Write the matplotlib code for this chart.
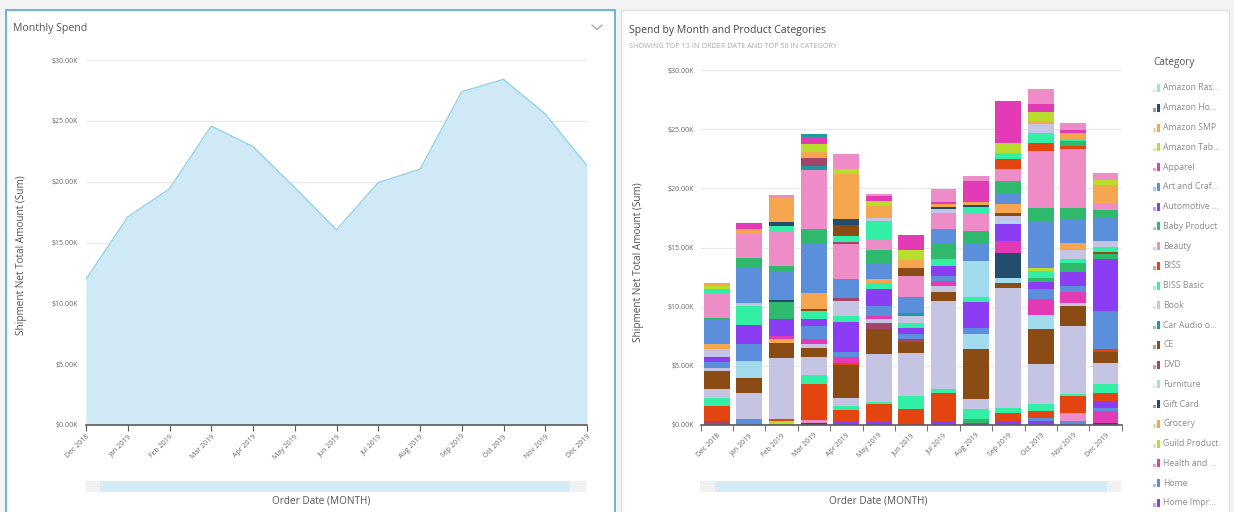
import numpy as np
import matplotlib.pyplot as plt
from matplotlib.patches import Rectangle

plt.rcParams['font.family'] = ['Open Sans', 'DejaVu Sans']

W, H = 1234, 512

months = ['Dec 2018', 'Jan 2019', 'Feb 2019', 'Mar 2019', 'Apr 2019', 'May 2019', 'Jun 2019',
          'Jul 2019', 'Aug 2019', 'Sep 2019', 'Oct 2019', 'Nov 2019', 'Dec 2019']

categories = ['Amazon Ras...', 'Amazon Ho...', 'Amazon SMP', 'Amazon Tab...', 'Apparel',
              'Art and Craf...', 'Automotive ...', 'Baby Product', 'Beauty', 'BISS', 'BISS Basic',
              'Book', 'Car Audio o...', 'CE', 'DVD', 'Furniture', 'Gift Card', 'Grocery',
              'Guild Product', 'Health and ...', 'Home', 'Home Impr...']

# stacked pieces per month, bottom to top: (colour key, $K)
seg_dec18 = [('maroon', 0.34), ('red', 1.27), ('mint', 0.70), ('lavender', 0.70), ('brown', 1.55),
             ('lavender', 0.28), ('blue', 0.48), ('purple', 0.42), ('lavender', 0.65), ('orange', 0.42),
             ('blue', 2.03), ('green', 0.23), ('pink', 2.11), ('mint', 0.34), ('lime', 0.23), ('orange', 0.23)]
seg_jan19 = [('blue', 0.48), ('lavender', 2.25), ('brown', 1.27), ('cyan', 1.41), ('blue', 1.41),
             ('purple', 1.61), ('mint', 1.63), ('lavender', 0.23), ('blue', 3.10), ('green', 0.76),
             ('pink', 1.97), ('orange', 0.42), ('magenta', 0.56)]
seg_feb19 = [('lime', 0.34), ('red', 0.20), ('lavender', 5.10), ('brown', 1.32), ('orange', 0.28),
             ('magenta', 0.28), ('purple', 1.46), ('green', 1.41), ('navy', 0.20), ('blue', 2.45),
             ('green', 0.37), ('pink', 2.96), ('mint', 0.42), ('navy', 0.34), ('orange', 2.06), ('pink', 0.23)]
seg_mar19 = [('navy', 0.20), ('pink', 0.20), ('red', 3.04), ('mint', 0.76), ('lavender', 1.55),
             ('brown', 0.79), ('lavender', 0.28), ('magenta', 0.48), ('blue', 1.07), ('purple', 0.62),
             ('mint', 0.62), ('brown', 0.23), ('orange', 1.35), ('blue', 4.08), ('green', 1.27),
             ('pink', 5.01), ('teal', 0.34), ('maroon', 0.70), ('orange', 0.48), ('lime', 0.65),
             ('magenta', 0.65), ('teal', 0.20)]
seg_apr19 = [('purple', 0.25), ('red', 0.99), ('mint', 0.37), ('lavender', 0.70), ('brown', 2.73),
             ('red', 0.17), ('magenta', 0.54), ('blue', 0.42), ('purple', 2.54), ('mint', 0.51),
             ('lavender', 1.27), ('maroon', 0.28), ('blue', 1.55), ('pink', 2.96), ('maroon', 0.20),
             ('mint', 0.51), ('brown', 0.90), ('navy', 0.56), ('orange', 3.75), ('lime', 0.42), ('pink', 1.27)]
seg_may19 = [('purple', 0.25), ('red', 1.49), ('mint', 0.20), ('lavender', 4.03), ('brown', 2.11),
             ('maroon', 0.56), ('lavender', 0.34), ('magenta', 0.23), ('blue', 0.85), ('purple', 1.41),
             ('mint', 0.51), ('orange', 0.34), ('blue', 1.35), ('green', 1.13), ('pink', 0.90),
             ('mint', 1.55), ('lavender', 0.28), ('orange', 0.99), ('lime', 0.42), ('magenta', 0.37),
             ('pink', 0.20)]
seg_jun19 = [('red', 1.38), ('mint', 1.07), ('lavender', 3.66), ('brown', 0.90), ('maroon', 0.23),
             ('blue', 0.42), ('purple', 0.56), ('mint', 0.42), ('lavender', 0.56), ('teal', 0.28),
             ('blue', 1.35), ('pink', 1.80), ('brown', 0.65), ('orange', 0.70), ('lime', 0.85),
             ('magenta', 1.21)]
seg_jul19 = [('purple', 0.34), ('red', 2.39), ('mint', 0.34), ('lavender', 7.41), ('brown', 0.76),
             ('lavender', 0.51), ('magenta', 0.42), ('blue', 0.42), ('purple', 0.85), ('mint', 0.62),
             ('green', 1.27), ('blue', 1.21), ('pink', 1.41), ('lavender', 0.28), ('navy', 0.23),
             ('orange', 0.20), ('magenta', 0.20), ('pink', 1.07)]
seg_aug19 = [('purple', 0.20), ('green', 0.28), ('mint', 0.85), ('lavender', 0.85), ('brown', 4.23),
             ('cyan', 1.27), ('blue', 0.48), ('purple', 2.20), ('mint', 0.42), ('cyan', 3.10),
             ('blue', 1.41), ('green', 1.13), ('pink', 1.41), ('mint', 0.56), ('navy', 0.20),
             ('orange', 0.23), ('magenta', 1.83), ('pink', 0.37)]
seg_sep19 = [('purple', 0.34), ('red', 0.70), ('mint', 0.42), ('lavender', 10.14), ('brown', 0.37),
             ('cyan', 0.48), ('navy', 2.11), ('magenta', 0.99), ('purple', 1.41), ('cyan', 0.28),
             ('lavender', 0.42), ('brown', 0.23), ('orange', 0.76), ('blue', 0.99), ('green', 0.99),
             ('pink', 1.04), ('red', 0.79), ('mint', 0.56), ('lime', 0.85), ('magenta', 3.52)]
seg_oct19 = [('purple', 0.30), ('blue', 0.32), ('red', 0.56), ('mint', 0.56), ('lavender', 3.38),
             ('brown', 2.96), ('cyan', 1.18), ('magenta', 1.35), ('blue', 0.85), ('purple', 0.62),
             ('green', 0.37), ('mint', 0.56), ('lime', 0.28), ('blue', 3.94), ('green', 1.13),
             ('pink', 4.79), ('red', 0.70), ('mint', 0.79), ('lavender', 0.76), ('orange', 0.28),
             ('lime', 0.76), ('magenta', 0.65), ('pink', 1.32)]
seg_nov19 = [('blue', 0.34), ('pink', 0.65), ('red', 1.46), ('mint', 0.20), ('lavender', 5.72),
             ('brown', 1.69), ('lavender', 0.23), ('magenta', 0.96), ('blue', 0.51), ('purple', 1.13),
             ('green', 0.79), ('mint', 0.34), ('lavender', 0.79), ('orange', 0.56), ('blue', 2.03),
             ('green', 0.90), ('pink', 5.01), ('red', 0.28), ('green', 0.42), ('mint', 0.20),
             ('orange', 0.45), ('magenta', 0.28), ('pink', 0.62)]
seg_dec19 = [('navy', 0.20), ('magenta', 0.99), ('blue', 0.28), ('purple', 0.56), ('red', 0.70),
             ('mint', 0.70), ('lavender', 1.77), ('brown', 0.96), ('red', 0.23), ('blue', 3.24),
             ('purple', 4.42), ('green', 0.37), ('brown', 0.20), ('mint', 0.42), ('lavender', 0.51),
             ('blue', 2.06), ('green', 0.56), ('pink', 0.56), ('orange', 1.52), ('lime', 0.45), ('pink', 0.62)]

stacks = [seg_dec18, seg_jan19, seg_feb19, seg_mar19, seg_apr19, seg_may19, seg_jun19,
          seg_jul19, seg_aug19, seg_sep19, seg_oct19, seg_nov19, seg_dec19]

palette = {'cyan': '#a2daee', 'navy': '#244c6d', 'orange': '#f5a64e', 'lime': '#b9dd2e',
           'magenta': '#e33bb6', 'blue': '#5b8fdc', 'purple': '#8b3df4', 'green': '#2eb96c',
           'pink': '#ee8cc8', 'red': '#e4440f', 'mint': '#33eea5', 'lavender': '#c5c5e3',
           'teal': '#1d9a9e', 'brown': '#8a4b14', 'maroon': '#a3456b'}
cycle = ['cyan', 'navy', 'orange', 'lime', 'magenta', 'blue', 'purple', 'green', 'pink',
         'red', 'mint', 'lavender', 'teal', 'brown', 'maroon']

totals = [sum(v for _, v in s) for s in stacks]

fig = plt.figure(figsize=(W / 100, H / 100), dpi=100, facecolor='#f3f3f3')

# background layer in pixel coordinates: panels, titles, legend, scroll bars
bg = fig.add_axes([0, 0, 1, 1])
bg.set_xlim(0, W)
bg.set_ylim(H, 0)
bg.axis('off')
bg.add_patch(Rectangle((6, 10), 609, 520, facecolor='white', edgecolor='#5fb0d8', lw=1.3))
bg.add_patch(Rectangle((621, 10), 608, 520, facecolor='white', edgecolor='#e2e2e2', lw=1))
bg.text(13, 29, 'Monthly Spend', fontsize=7.6, color='#555555', va='center')
bg.plot([592, 597, 602], [25, 29.5, 25], color='#999999', lw=0.8)
bg.text(629, 30, 'Spend by Month and Product Categories', fontsize=7.5, color='#444444', va='center')
bg.text(629, 46, 'SHOWING TOP 13 IN ORDER DATE AND TOP 50 IN CATEGORY', fontsize=5.2,
        color='#aaaaaa', va='center')

for x0, x1, s0, s1 in [(86, 586, 100, 570), (700, 1121, 715, 1107)]:
    bg.add_patch(Rectangle((x0, 481), x1 - x0, 11, facecolor='#f1f1f1', lw=0))
    bg.add_patch(Rectangle((s0, 481), s1 - s0, 11, facecolor='#d4ecf7', lw=0))
bg.text(321, 501, 'Order Date (MONTH)', fontsize=7.2, color='#555555', ha='center', va='center')
bg.text(878, 501, 'Order Date (MONTH)', fontsize=7.2, color='#555555', ha='center', va='center')
bg.text(22, 255, 'Shipment Net Total Amount (Sum)', fontsize=7.2, color='#555555',
        rotation=90, ha='center', va='center')
bg.text(638, 262, 'Shipment Net Total Amount (Sum)', fontsize=7.2, color='#555555',
        rotation=90, ha='center', va='center')

# legend
bg.text(1153, 62, 'Category', fontsize=7.2, color='#555555', va='center')
for i, name in enumerate(categories):
    y = 88 + i * 19.76
    c = palette[cycle[i % len(cycle)]]
    bg.add_patch(Rectangle((1153, y + 4), 2.6, -3.5, facecolor=c, alpha=0.5, lw=0))
    bg.add_patch(Rectangle((1156.5, y + 4), 3.4, -8, facecolor=c, lw=0))
    bg.text(1163, y, name, fontsize=6.2, color='#8a8a8a', va='center')

ticks = np.arange(0, 31, 5)
tick_labels = [f'${t:.2f}K' for t in ticks]
x = np.arange(len(months))


def style_axis(ax, pad):
    ax.set_ylim(0, 30)
    ax.set_yticks(ticks)
    ax.set_yticklabels(tick_labels)
    ax.grid(axis='y', color='#e9e9e9', lw=0.8)
    ax.set_axisbelow(True)
    for side in ['top', 'right', 'left']:
        ax.spines[side].set_visible(False)
    ax.spines['bottom'].set_color('#5a5a5a')
    ax.spines['bottom'].set_linewidth(1.2)
    ax.tick_params(axis='y', length=0, labelsize=5, labelcolor='#666666', pad=pad)
    ax.tick_params(axis='x', labelsize=5, labelcolor='#666666', pad=2)


# monthly spend area
ax1 = fig.add_axes([86 / W, (H - 425) / H, (587 - 86) / W, (425 - 60) / H])
ax1.fill_between(x, totals, color='#cfeaf6', lw=0)
ax1.plot(x, totals, color='#95d2ea', lw=1)
ax1.set_xlim(0, 12)
style_axis(ax1, 6)
ax1.set_xticks(x)
ax1.set_xticklabels(months, rotation=45, ha='right', va='top', rotation_mode='anchor')
ax1.tick_params(axis='x', length=4, color='#5a5a5a')

# stacked columns by category
ax2 = fig.add_axes([700.5 / W, (H - 425) / H, 421.2 / W, (425 - 70) / H])
for i, segs in enumerate(stacks):
    bottom = 0
    for key, v in segs:
        ax2.bar(i, v, bottom=bottom, width=0.8, color=palette[key], lw=0)
        bottom += v
ax2.set_xlim(-0.5, 12.5)
style_axis(ax2, 4.5)
ax2.set_xticks(x)
ax2.set_xticklabels(months, rotation=45, ha='right', va='top', rotation_mode='anchor')
ax2.set_xticks(np.arange(-0.5, 13, 1), minor=True)
ax2.tick_params(axis='x', which='major', length=0, pad=5)
ax2.tick_params(axis='x', which='minor', length=4, color='#5a5a5a')

fig.savefig('out.png', dpi=100, facecolor=fig.get_facecolor())
